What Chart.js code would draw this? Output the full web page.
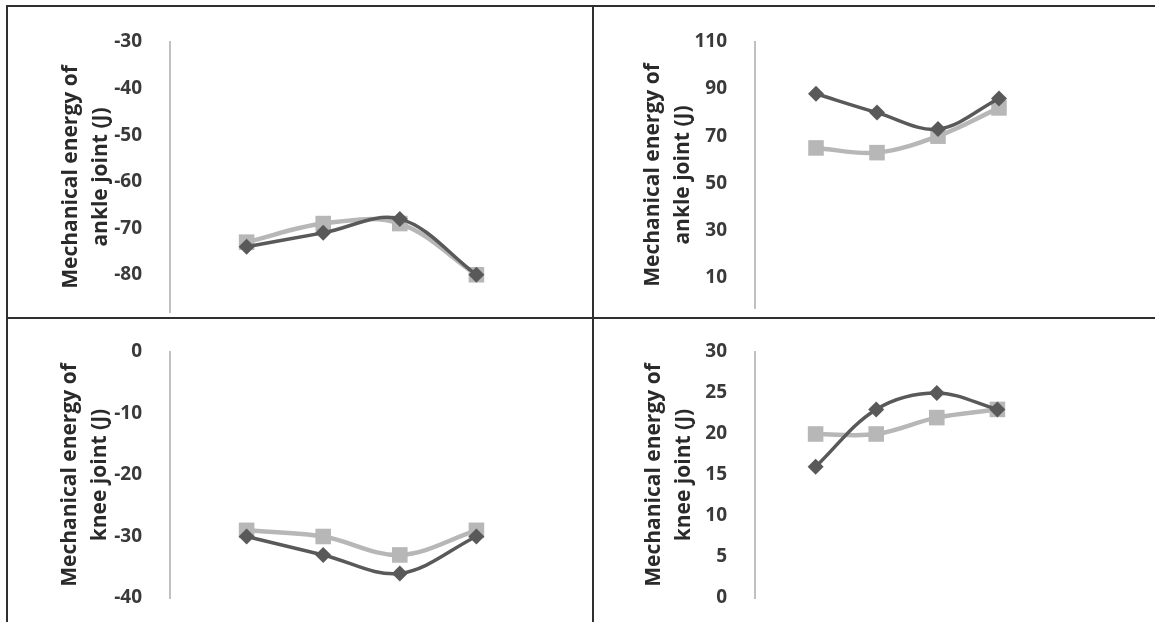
<!DOCTYPE html>
<html>
<head>
<meta charset="utf-8">
<script src="https://cdn.jsdelivr.net/npm/chart.js@4.4.0/dist/chart.umd.min.js"></script>
<style>
    html, body { margin: 0; padding: 0; background: #fff; }
    body { width: 1155px; height: 622px; position: relative; overflow: hidden; }
    .cell { position: absolute; overflow: hidden; }
    .rule { position: absolute; background: #2f2f2f; }
</style>
</head>
<body>

<div class="rule" style="left:6px;top:5px;width:1149px;height:2px"></div>
<div class="rule" style="left:6px;top:5px;width:2px;height:617px"></div>
<div class="rule" style="left:592px;top:5px;width:2px;height:617px"></div>
<div class="rule" style="left:6px;top:317px;width:1149px;height:2px"></div>

<div class="cell" style="left:8px;top:7px;width:584px;height:310px"><canvas id="ankleNeg"></canvas></div>
<div class="cell" style="left:594px;top:7px;width:561px;height:310px"><canvas id="anklePos"></canvas></div>
<div class="cell" style="left:8px;top:319px;width:584px;height:303px"><canvas id="kneeNeg"></canvas></div>
<div class="cell" style="left:594px;top:319px;width:561px;height:303px"><canvas id="kneePos"></canvas></div>

<script>
    // categories (blank slots at both ends, like the excel plot)
    var phases = ["", "P1", "P2", "P3", "P4", ""];

    // ankle, negative work
    var ankleNegDark = [-74, -71, -68, -80];
    var ankleNegLight = [-73, -69, -69, -80];
    var ankleNegTicks = [-30, -40, -50, -60, -70, -80];

    // ankle, positive work
    var anklePosDark = [88, 80, 73, 86];
    var anklePosLight = [65, 63, 70, 82];
    var anklePosTicks = [110, 90, 70, 50, 30, 10];

    // knee, negative work
    var kneeNegDark = [-30, -33, -36, -30];
    var kneeNegLight = [-29, -30, -33, -29];
    var kneeNegTicks = [0, -10, -20, -30, -40];

    // knee, positive work
    var kneePosDark = [16, 23, 25, 23];
    var kneePosLight = [20, 20, 22, 23];
    var kneePosTicks = [30, 25, 20, 15, 10, 5, 0];

    var ankleTitle = ["Mechanical energy of", "ankle joint (J)"];
    var kneeTitle = ["Mechanical energy of", "knee joint (J)"];

    var fontFamily = "'Open Sans', 'Liberation Sans', sans-serif";

    function padded(vals) {
        return [null].concat(vals).concat([null]);   // empty first/last slot
    }

    function buildChart(id, dark, light, ticks, yMin, yMax, title, layout) {
        var ctx = document.getElementById(id).getContext('2d');
        return new Chart(ctx, {
            type: 'line',
            data: {
                labels: phases,
                datasets: [{
                    data: padded(dark),
                    borderColor: '#595959',
                    backgroundColor: '#595959',
                    borderWidth: 3.5,
                    pointStyle: 'rectRot',
                    pointRadius: 8,
                    pointBorderWidth: 0,
                    tension: 0.35,
                    clip: false,
                    order: 0
                }, {
                    data: padded(light),
                    borderColor: '#b7b7b7',
                    backgroundColor: '#b7b7b7',
                    borderWidth: 4.5,
                    pointStyle: 'rect',
                    pointRadius: 11,
                    pointBorderWidth: 0,
                    tension: 0.35,
                    clip: false,
                    order: 1
                }]
            },
            options: {
                responsive: true,
                maintainAspectRatio: false,
                animation: false,
                devicePixelRatio: 1,
                layout: {
                    autoPadding: false,
                    padding: { top: layout.top, bottom: layout.bottom, right: layout.right, left: 0 }
                },
                plugins: { legend: { display: false }, tooltip: { enabled: false } },
                scales: {
                    x: {
                        display: false,
                        offset: false
                    },
                    y: {
                        min: yMin,
                        max: yMax,
                        grid: { display: false },
                        border: { display: true, color: '#c0c0c0', width: 2 },
                        afterBuildTicks: function (scale) {
                            scale.ticks = ticks.map(function (v) { return { value: v }; });
                        },
                        afterFit: function (scale) {
                            scale.width = layout.axis;   // put the axis line where the picture has it
                            scale.paddingTop = 0;        // layout padding alone decides the plot height
                            scale.paddingBottom = 0;
                        },
                        ticks: {
                            padding: 20,
                            color: '#3a3a3a',
                            font: { family: fontFamily, weight: 'bold', size: 19 }
                        },
                        title: {
                            display: true,
                            text: title,
                            color: '#2a2a2a',
                            padding: { top: layout.titlePad, bottom: 0 },
                            font: { family: fontFamily, weight: 'bold', size: 21, lineHeight: 1.43 }
                        }
                    }
                }
            }
        });
    }

    buildChart("ankleNeg", ankleNegDark, ankleNegLight, ankleNegTicks, -88, -30, ankleTitle,
        { top: 35, bottom: 5, right: 39, axis: 162, titlePad: 48 });
    buildChart("anklePos", anklePosDark, anklePosLight, anklePosTicks, -3, 110, ankleTitle,
        { top: 35, bottom: 9, right: 95, axis: 161, titlePad: 44 });
    buildChart("kneeNeg", kneeNegDark, kneeNegLight, kneeNegTicks, -40, 0, kneeTitle,
        { top: 33, bottom: 24, right: 39, axis: 162, titlePad: 47 });
    buildChart("kneePos", kneePosDark, kneePosLight, kneePosTicks, 0, 30, kneeTitle,
        { top: 33, bottom: 24, right: 97, axis: 161, titlePad: 45 });
</script>
</body>
</html>
